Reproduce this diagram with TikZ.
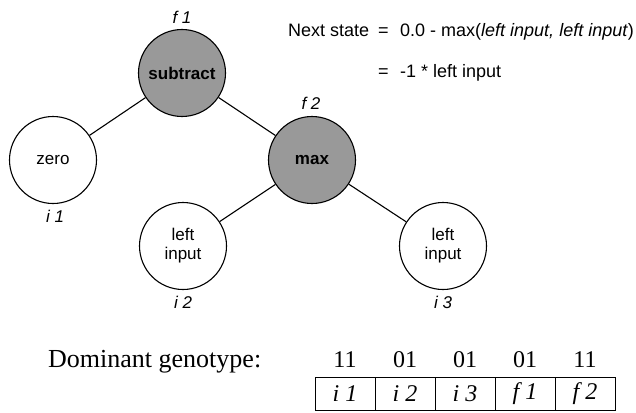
\documentclass[tikz,border=0pt]{standalone}
\usepackage{fontspec}
\setmainfont{Liberation Sans}
\newfontfamily\tnr{Liberation Serif}
\begin{document}
\begin{tikzpicture}[x=1pt,y=-1pt,
  every node/.style={font=\fontsize{17}{20}\selectfont},
  tnode/.style={circle,draw,line width=1.1pt,minimum size=87pt,inner sep=0pt,align=center,fill=white,font=\fontsize{17}{20}\selectfont},
  fnode/.style={tnode,fill=black!40,font=\fontsize{17}{20}\selectfont\bfseries},
  lab/.style={font=\fontsize{17}{20}\selectfont\itshape},
  eqtext/.style={anchor=base west,inner sep=0pt,font=\fontsize{18}{21}\selectfont},
  edge/.style={line width=1.1pt},
  cell/.style={draw,line width=1pt,minimum width=60pt,minimum height=33pt,inner sep=0pt,font=\tnr\fontsize{24}{28}\selectfont\itshape},
  gene/.style={anchor=base,inner sep=0pt,font=\tnr\fontsize{24}{28}\selectfont}]
\useasboundingbox (0,0) rectangle (636,412);
\node[fnode] (f1) at (182,73) {subtract};
\node[tnode] (zero) at (53,160) {zero};
\node[fnode] (f2) at (312,160) {max};
\node[tnode] (i2) at (183,246) {left\\[-1pt]input};
\node[tnode] (i3) at (443,246) {left\\[-1pt]input};
\draw[edge] (f1) -- (zero);
\draw[edge] (f1) -- (f2);
\draw[edge] (f2) -- (i2);
\draw[edge] (f2) -- (i3);
\node[lab] (lf1) at (182,17) {f 1};
\node[lab] (lf2) at (311,103) {f 2};
\node[lab] (li1) at (55,216) {i 1};
\node[lab] (li2) at (183,302) {i 2};
\node[lab] (li3) at (443,302) {i 3};
\node[eqtext] (ns) at (288,37) {Next state};
\node[eqtext] (eqa) at (378,37) {=};
\node[eqtext] (exa) at (400,37) {0.0 - max(\textit{left input, left input})};
\node[eqtext] (eqb) at (378,77) {=};
\node[eqtext] (exb) at (400,77) {-1 * left input};
\node[anchor=base west,inner sep=0pt,font=\tnr\fontsize{26}{30}\selectfont] (dg) at (48,367) {Dominant genotype:};
\node[cell] (c1) at (345,393.5) {i 1};
\node[cell] (c2) at (405,393.5) {i 2};
\node[cell] (c3) at (465,393.5) {i 3};
\node[cell] (c4) at (525,393.5) {f 1};
\node[cell] (c5) at (585,393.5) {f 2};
\node[gene] (g1) at (345,367) {11};
\node[gene] (g2) at (405,367) {01};
\node[gene] (g3) at (465,367) {01};
\node[gene] (g4) at (525,367) {01};
\node[gene] (g5) at (585,367) {11};
\end{tikzpicture}
\end{document}
